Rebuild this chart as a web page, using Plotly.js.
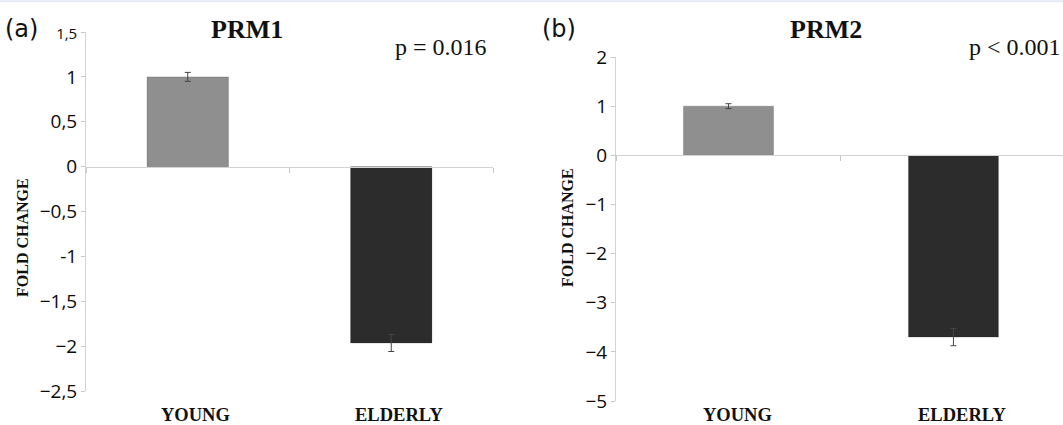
<!DOCTYPE html>
<html>
<head>
<meta charset="utf-8">
<script src="https://cdn.plot.ly/plotly-3.0.1.min.js"></script>
<style>html,body{margin:0;padding:0;background:#fff;}#chart{width:1063px;height:425px;}</style>
</head>
<body>
<div id="chart"></div>
<script>
// Data
const categories = ['YOUNG', 'ELDERLY'];
const prm1Values = [1.0, -1.965];
const prm1Errors = [0.05, 0.095];
const prm2Values = [1.0, -3.70];
const prm2Errors = [0.05, 0.175];
const barColors = ['#8f8f8f', '#2c2c2c'];
const prm1TickVals = [1.5, 1, 0.5, 0, -0.5, -1, -1.5, -2, -2.5];
const prm1TickText = ['<span style="font-size:15px">1,5</span>', '1', '0,5', '0', '\u22120,5', '-1', '\u22121,5', '\u22122', '\u22122,5'];
const prm2TickVals = [2, 1, 0, -1, -2, -3, -4, -5];
const prm2TickText = ['2', '1', '0', '\u22121', '\u22122', '\u22123', '\u22124', '\u22125'];

const W = 1063, H = 425;
const px = v => v / W;
const py = v => (H - v) / H;

const y1Range = [-2.5, 1.5], y2Range = [-5, 2];
const y1Dom = [py(391), py(32)], y2Dom = [py(401), py(57)];
const zeroPos = (r, d) => d[0] + (0 - r[0]) / (r[1] - r[0]) * (d[1] - d[0]);

function barTrace(vals, errs, xa, ya) {
  return {
    type: 'bar', x: categories, y: vals, xaxis: xa, yaxis: ya,
    width: 0.4,
    marker: {color: barColors, line: {color: 'rgba(0,0,0,0.18)', width: 1}},
    error_y: {type: 'data', array: errs, visible: true, color: '#444', thickness: 1, width: 3},
    hoverinfo: 'skip', showlegend: false
  };
}

const serif = 'Liberation Serif, Times New Roman, serif';
const sans = 'Open Sans';

function yAxis(dom, range, anchor, vals, text) {
  return {
    domain: dom, range: range, anchor: anchor, automargin: false,
    showgrid: false, zeroline: false, showline: true, linecolor: '#d3d3d3', linewidth: 1,
    ticks: 'outside', ticklen: 4, tickcolor: '#c8c8c8', tickwidth: 1,
    tickmode: 'array', tickvals: vals, ticktext: text,
    tickfont: {family: sans, size: 19, color: '#0a0a0a'}
  };
}
const xBase = {
  type: 'category', showgrid: false, zeroline: false, showline: true, linecolor: '#d3d3d3',
  linewidth: 1, ticks: 'outside', ticklen: 5, tickcolor: '#c8c8c8', tickson: 'boundaries',
  showticklabels: false, anchor: 'free', fixedrange: true
};

function note(text, xref, x, y, size, family, extra) {
  return Object.assign({text: text, xref: xref, yref: 'paper', x: x, y: y, xanchor: 'center',
    yanchor: 'middle', showarrow: false, font: {family: family, size: size, color: '#111'}}, extra || {});
}

const layout = {
  width: W, height: H, margin: {l: 0, r: 0, t: 0, b: 0},
  paper_bgcolor: '#fff', plot_bgcolor: 'rgba(0,0,0,0)',
  bargap: 0.6,
  xaxis: Object.assign({}, xBase, {domain: [px(86), px(493)], range: [-0.5, 1.5],
    position: zeroPos(y1Range, y1Dom)}),
  yaxis: yAxis(y1Dom, y1Range, 'x', prm1TickVals, prm1TickText),
  xaxis2: Object.assign({}, xBase, {domain: [px(616), 1], range: [-0.5, 1.487],
    position: zeroPos(y2Range, y2Dom)}),
  yaxis2: yAxis(y2Dom, y2Range, 'x2', prm2TickVals, prm2TickText),
  shapes: [
    {type: 'line', xref: 'paper', yref: 'paper', x0: 0, x1: 1, y0: 0.997, y1: 0.997,
     line: {color: '#e3eaf3', width: 2}}
  ],
  annotations: [
    note('(a)', 'paper', px(21), py(29), 24, 'DejaVu Sans, sans-serif'),
    note('(b)', 'paper', px(559), py(29), 24, 'DejaVu Sans, sans-serif'),
    note('<b>PRM1</b>', 'paper', px(247), py(29), 26, serif),
    note('<b>PRM2</b>', 'paper', px(826), py(29), 26, serif),
    note('p = 0.016', 'paper', px(441), py(47), 24, serif),
    note('p < 0.001', 'paper', px(1063), py(47), 24, serif, {xanchor: 'right'}),
    note('<b>FOLD CHANGE</b>', 'paper', px(22), py(238), 16, serif, {textangle: -90}),
    note('<b>FOLD CHANGE</b>', 'paper', px(567), py(228), 16, serif, {textangle: -90})
  ]
};

categories.forEach(function (c) {
  layout.annotations.push(note('<b>' + c + '</b>', 'x', c, py(415), 18.5, serif, {xshift: 8}));
  layout.annotations.push(note('<b>' + c + '</b>', 'x2', c, py(415), 18.5, serif, {xshift: 9}));
});

Plotly.newPlot('chart', [
  barTrace(prm1Values, prm1Errors, 'x', 'y'),
  barTrace(prm2Values, prm2Errors, 'x2', 'y2')
], layout, {displayModeBar: false, staticPlot: true});
</script>
</body>
</html>
